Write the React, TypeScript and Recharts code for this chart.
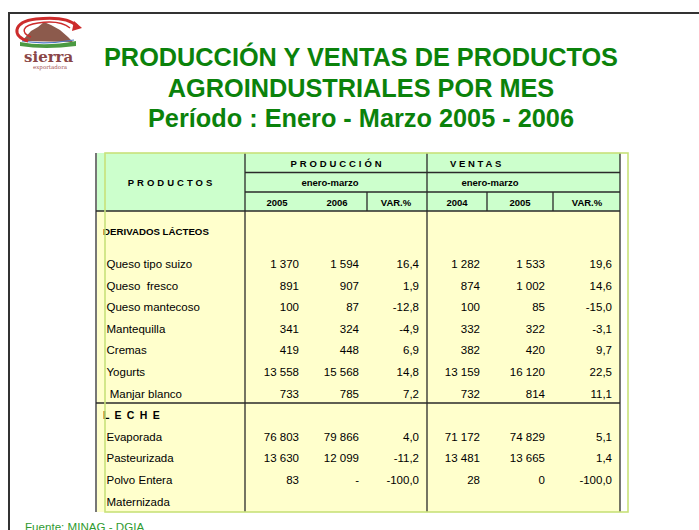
import { ComposedChart, Bar, XAxis, YAxis } from "recharts"

// rows of the table, top to bottom ("section" rows carry no values)
const ROWS = [
  "DERIVADOS LÁCTEOS",
  "Queso tipo suizo",
  "Queso  fresco",
  "Queso mantecoso",
  "Mantequilla",
  "Cremas",
  "Yogurts",
  " Manjar blanco",
  "L E C H E",
  "Evaporada",
  "Pasteurizada",
  "Polvo Entera",
  "Maternizada"
]
const SECTIONS = ["DERIVADOS LÁCTEOS", "L E C H E"]

const PROD_2005 = [null, 1370, 891, 100, 341, 419, 13558, 733, null, 76803, 13630, 83, null]
const PROD_2006 = [null, 1594, 907, 87, 324, 448, 15568, 785, null, 79866, 12099, 0, null]
const PROD_VAR = [null, 16.4, 1.9, -12.8, -4.9, 6.9, 14.8, 7.2, null, 4.0, -11.2, -100.0, null]
const VENTAS_2004 = [null, 1282, 874, 100, 332, 382, 13159, 732, null, 71172, 13481, 28, null]
const VENTAS_2005 = [null, 1533, 1002, 85, 322, 420, 16120, 814, null, 74829, 13665, 0, null]
const VENTAS_VAR = [null, 19.6, 14.6, -15.0, -3.1, 9.7, 22.5, 11.1, null, 5.1, 1.4, -100.0, null]

const TITLE = [
  "PRODUCCIÓN Y VENTAS DE PRODUCTOS",
  "AGROINDUSTRIALES POR MES",
  "Período : Enero - Marzo 2005 - 2006"
]
const GROUPS = ["PRODUCCIÓN", "VENTAS"]
const SUBTITLE = "enero-marzo"
const YEARS_PROD = ["2005", "2006", "VAR.%"]
const YEARS_VENTAS = ["2004", "2005", "VAR.%"]
const SOURCE = "Fuente: MINAG - DGIA"

const FONT = "'Liberation Sans', Arial, sans-serif"
const GREEN = "#0b820b"
const LINE = "#2a2a2a"

const fmtInt = (v: number | null, dashZero = false) => {
  if (v === null) return ""
  if (v === 0 && dashZero) return "-"
  return String(v).replace(/\B(?=(\d{3})+(?!\d))/g, " ")
}
const fmtDec = (v: number | null) => (v === null ? "" : v.toFixed(1).replace(".", ","))

const tableData = ROWS.map((name) => ({ name, bar: 0 }))

// right edges of the number columns
const COL_RIGHT = [299, 359, 419, 480, 545, 612]

function RowTick(props: any) {
  const { y, payload } = props
  const i = ROWS.indexOf(payload.value)
  if (i < 0) return null
  if (SECTIONS.includes(payload.value)) {
    const first = i === 0
    return (
      <text
        x={103}
        y={y + (first ? -10.7 : 0) + 3.6}
        fontFamily={FONT}
        fontWeight="bold"
        fontSize={first ? 9.7 : 10.5}
        letterSpacing={first ? 0 : 1.2}
        fill="#000"
        style={{ whiteSpace: "pre" }}
      >
        {payload.value}
      </text>
    )
  }
  const cells = [
    fmtInt(PROD_2005[i]),
    fmtInt(PROD_2006[i], true),
    fmtDec(PROD_VAR[i]),
    fmtInt(VENTAS_2004[i]),
    fmtInt(VENTAS_2005[i]),
    fmtDec(VENTAS_VAR[i])
  ]
  return (
    <g fontFamily={FONT} fontSize={11.5} fill="#000">
      <text x={106.5} y={y + 4} style={{ whiteSpace: "pre" }}>
        {payload.value}
      </text>
      {cells.map((c, k) => (
        <text key={k} x={COL_RIGHT[k]} y={y + 4} textAnchor="end">
          {c}
        </text>
      ))}
    </g>
  )
}

function Background() {
  return (
    <svg width={699} height={530} style={{ position: "absolute", left: 0, top: 0 }}>
      <rect x={0} y={0} width={699} height={530} fill="#fff" />
      {/* frame */}
      <line x1={8} y1={13} x2={699} y2={13} stroke="#333" strokeWidth={2} />
      <line x1={9} y1={12} x2={9} y2={530} stroke="#333" strokeWidth={2} />

      {/* logo */}
      <g>
        <path d="M22 41 L31 31 L38 27 L44 22 L51 25 L60 30 L68 37 L73 42 Z" fill="#8c5a4c" />
        <path d="M20 42 Q45 47 76 41 L76 46 Q45 50 20 46 Z" fill="#4b9a42" />
        <path d="M22 41 Q45 45 74 40" stroke="#4c78c4" strokeWidth={1.2} fill="none" />
        <path
          d="M28 41 C12 37 12 22 36 19 C54 17 70 19 77 26"
          stroke="#cc2c2c"
          strokeWidth={3}
          fill="none"
        />
        <path
          d="M31 37 C20 33 22 25 38 23 C52 21 64 23 70 28"
          stroke="#cc2c2c"
          strokeWidth={1.5}
          fill="none"
        />
        <path d="M74 21 L82 28 L72 31 Z" fill="#cc2c2c" />
        <text x={24} y={61.5} fontFamily="'DejaVu Serif', serif" fontWeight="bold" fontSize={15} fill="#8a4646">
          sierra
        </text>
        <text x={33} y={69} fontFamily="'DejaVu Serif', serif" fontSize={5.5} fill="#a45252">
          exportadora
        </text>
      </g>

      {/* titles */}
      {TITLE.map((t, k) => (
        <text
          key={k}
          x={361}
          y={66 + k * 30.5}
          textAnchor="middle"
          fontFamily={FONT}
          fontWeight="bold"
          fontSize={25.3}
          fill={GREEN}
        >
          {t}
        </text>
      ))}

      {/* table backgrounds */}
      <rect x={96} y={153} width={524} height={58} fill="#ccffcc" />
      <rect x={96} y={211} width={524} height={301} fill="#ffffcc" />

      {/* header texts */}
      <g fontFamily={FONT} fontWeight="bold" fill="#000">
        <text x={171.5} y={185.5} textAnchor="middle" fontSize={9.5} letterSpacing={3}>
          PRODUCTOS
        </text>
        <text x={337.5} y={166.5} textAnchor="middle" fontSize={9.5} letterSpacing={2.9}>
          {GROUPS[0]}
        </text>
        <text x={477} y={166.5} textAnchor="middle" fontSize={9.5} letterSpacing={2.7}>
          {GROUPS[1]}
        </text>
        <text x={330} y={186} textAnchor="middle" fontSize={9.5}>
          {SUBTITLE}
        </text>
        <text x={490} y={186} textAnchor="middle" fontSize={9.5}>
          {SUBTITLE}
        </text>
        {YEARS_PROD.map((t, k) => (
          <text key={"p" + k} x={[277, 337, 396][k]} y={205.5} textAnchor="middle" fontSize={9.5}>
            {t}
          </text>
        ))}
        {YEARS_VENTAS.map((t, k) => (
          <text key={"v" + k} x={[457, 520, 587][k]} y={205.5} textAnchor="middle" fontSize={9.5}>
            {t}
          </text>
        ))}
      </g>

      {/* grid */}
      <g stroke={LINE} strokeWidth={1.3}>
        <line x1={96} y1={153} x2={96} y2={512} stroke="#777" strokeWidth={2} />
        <line x1={245} y1={153} x2={245} y2={512} />
        <line x1={427} y1={153} x2={427} y2={512} />
        <line x1={620} y1={153} x2={620} y2={512} />
        <line x1={245} y1={172.5} x2={620} y2={172.5} />
        <line x1={245} y1={192} x2={620} y2={192} />
        <line x1={96} y1={211} x2={620} y2={211} />
        <line x1={367} y1={192} x2={367} y2={211} />
        <line x1={487} y1={192} x2={487} y2={211} />
        <line x1={553} y1={192} x2={553} y2={211} />
        <line x1={96} y1={403} x2={620} y2={403} />
      </g>

      <text x={25} y={531} fontFamily={FONT} fontSize={11.6} fill="#2f9a2f">
        {SOURCE}
      </text>
    </svg>
  )
}

function Overlay() {
  return (
    <svg width={699} height={530} style={{ position: "absolute", left: 0, top: 0, pointerEvents: "none" }}>
      <rect x={105} y={153} width={523} height={359} fill="none" stroke="#c8e27a" strokeWidth={1.6} />
    </svg>
  )
}

export default function App() {
  return (
    <div style={{ position: "absolute", left: 0, top: 0, width: 699, height: 530, overflow: "hidden" }}>
      <Background />
      <div style={{ position: "absolute", left: 0, top: 0 }}>
        <ComposedChart
          layout="vertical"
          width={699}
          height={530}
          data={tableData}
          margin={{ top: 231.6, right: 0, bottom: 17.6, left: 0 }}
        >
          <XAxis type="number" hide />
          <YAxis
            type="category"
            dataKey="name"
            width={1}
            interval={0}
            axisLine={false}
            tickLine={false}
            tick={(p: any) => <RowTick {...p} />}
          />
          <Bar dataKey="bar" fill="transparent" isAnimationActive={false} />
        </ComposedChart>
      </div>
      <Overlay />
    </div>
  )
}
